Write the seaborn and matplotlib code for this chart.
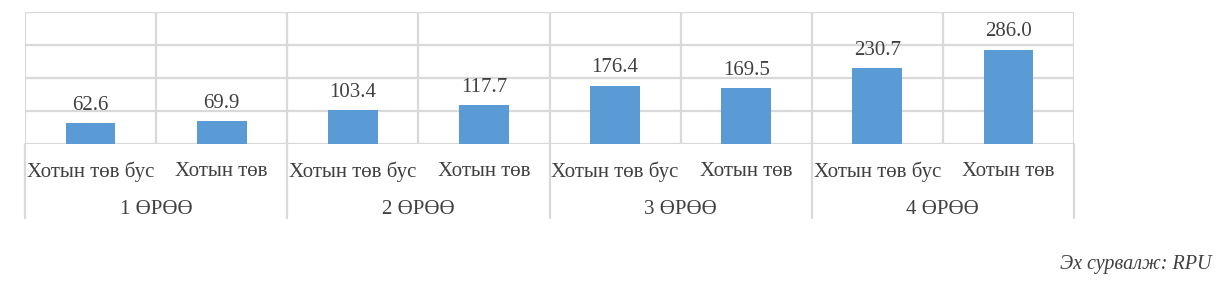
import matplotlib
matplotlib.use("Agg")
import matplotlib.pyplot as plt
import seaborn as sns
import pandas as pd

groups = ["1 ӨРӨӨ", "2 ӨРӨӨ", "3 ӨРӨӨ", "4 ӨРӨӨ"]
locations = ["Хотын төв бус", "Хотын төв"]
values = [62.6, 69.9, 103.4, 117.7, 176.4, 169.5, 230.7, 286.0]
source_text = "Эх сурвалж: RPU"

rows = []
i = 0
for g in groups:
    for loc in locations:
        rows.append({"key": f"{g}|{loc}", "group": g, "loc": loc, "value": values[i]})
        i += 1
df = pd.DataFrame(rows)

sns.set_theme(style="white")
plt.rcParams["font.family"] = ["Liberation Serif", "DejaVu Serif"]

W, H = 1224, 282
fig = plt.figure(figsize=(W / 100, H / 100), dpi=100)
left, right, top, bottom = 25, 1074, 12, 144
ax = fig.add_axes([left / W, (H - bottom) / H, (right - left) / W, (bottom - top) / H])

grid_c = "#D9D9D9"
text_c = "#404040"
bar_c = "#5B9BD5"
fs = 15

sns.barplot(data=df, x="key", y="value", color=bar_c, width=0.38, ax=ax,
            saturation=1, edgecolor="none", zorder=3)

ax.set_xlim(-0.5, len(df) - 0.5)
ax.set_ylim(0, 400)
ax.set_yticks([0, 100, 200, 300, 400])
ax.set_yticklabels([])
ax.tick_params(axis="both", length=0)
ax.set_xlabel("")
ax.set_ylabel("")
ax.set_xticks([])
for s in ax.spines.values():
    s.set_visible(False)

# horizontal grid lines
for yv in [0, 100, 200, 300, 400]:
    ax.axhline(yv, color=grid_c, lw=1.6, zorder=1)
# vertical category lines inside plot
for k in range(len(df) + 1):
    ax.axvline(k - 0.5, color=grid_c, lw=1.6, zorder=1)

# lower table: group separators
low = -(218 - bottom) / (bottom - top)
trans = ax.get_xaxis_transform()
for gi in range(len(groups) + 1):
    xg = gi * len(locations) - 0.5
    ax.plot([xg, xg], [0, low], transform=trans, color=grid_c, lw=1.6, clip_on=False, zorder=1)

cat_y = -(172 - bottom) / (bottom - top)
grp_y = -(209 - bottom) / (bottom - top)
for k, r in df.iterrows():
    ax.text(k, cat_y, r["loc"], transform=trans, ha="center", va="center",
            fontsize=fs, color=text_c)
for gi, g in enumerate(groups):
    xc = gi * len(locations) + (len(locations) - 1) / 2
    ax.text(xc, grp_y, g, transform=trans, ha="center", va="center",
            fontsize=fs, color=text_c)

# value labels
for k, v in enumerate(df["value"]):
    ax.annotate(f"{v:.1f}", (k, v), xytext=(0, 6), textcoords="offset points",
                ha="center", va="bottom", fontsize=fs, color=text_c)

fig.text(1212 / W, (H - 265) / H, source_text, ha="right", va="center",
         fontsize=14.5, style="italic", color=text_c)

fig.savefig("out.png", dpi=100, facecolor="white")
